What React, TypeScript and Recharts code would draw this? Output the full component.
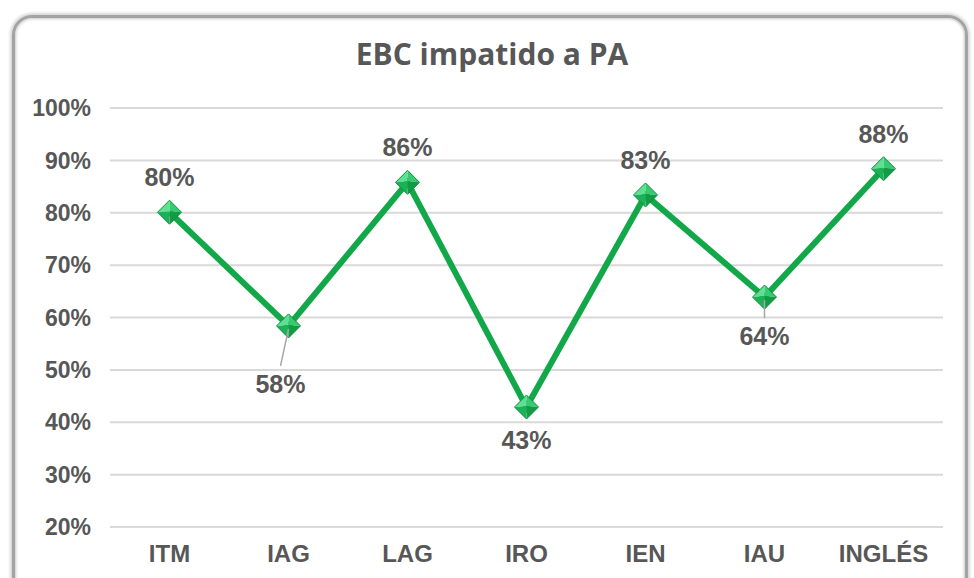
import React from 'react';
import { LineChart, Line, XAxis, YAxis, CartesianGrid, LabelList } from 'recharts';

const categories = ['ITM', 'IAG', 'LAG', 'IRO', 'IEN', 'IAU', 'INGLÉS'];
const values = [0.801, 0.584, 0.858, 0.429, 0.834, 0.639, 0.884];
const yTicks = [0.2, 0.3, 0.4, 0.5, 0.6, 0.7, 0.8, 0.9, 1.0];
const title = 'EBC impatido a PA';

const data = categories.map((name, i) => ({ name, value: values[i] }));

const TEXT = '#575757';
const GREEN = '#12A84A';
const FONT = '"Liberation Sans", Arial, sans-serif';

// labels with a leader line sit a bit further from their point
const leaderNudge: Record<string, { dx: number; dy: number }> = {
  IAG: { dx: -8, dy: 25 },
  IAU: { dx: 0, dy: 6 },
};

const pct = (v: number) => `${Math.round(v * 100)}%`;

function Diamond(props: any) {
  const { cx, cy } = props;
  if (cx == null || cy == null) return null;
  const r = 12;
  const T = `${cx},${cy - r}`;
  const R = `${cx + r},${cy}`;
  const B = `${cx},${cy + r}`;
  const L = `${cx - r},${cy}`;
  const C = `${cx},${cy - 1}`;
  return (
    <g>
      <polygon points={`${L} ${T} ${C}`} fill="#5FDF92" />
      <polygon points={`${T} ${R} ${C}`} fill="#36C970" />
      <polygon points={`${R} ${B} ${C}`} fill="#119B45" />
      <polygon points={`${B} ${L} ${C}`} fill="#1BB257" />
      <polygon points={`${T} ${R} ${B} ${L}`} fill="none" stroke="#0E8F3E" strokeWidth={1} />
    </g>
  );
}

function PointLabel(props: any) {
  const { x, y, value, index } = props;
  const prev = index > 0 ? values[index - 1] : Infinity;
  const next = index < values.length - 1 ? values[index + 1] : Infinity;
  const below = value < prev && value < next;
  const nudge = leaderNudge[categories[index]];
  const dx = nudge ? nudge.dx : 0;
  const dy = (below ? 33 : -35) + (nudge ? nudge.dy : 0);
  return (
    <g>
      {nudge && (
        <line x1={x} y1={y + 3} x2={x + dx} y2={y + dy - 18} stroke="#A6A6A6" strokeWidth={1.5} />
      )}
      <text
        x={x + dx}
        y={y + dy}
        textAnchor="middle"
        dominantBaseline="central"
        fill={TEXT}
        fontSize={25}
        fontWeight="bold"
        fontFamily={FONT}
      >
        {pct(value)}
      </text>
    </g>
  );
}

export default function App() {
  return (
    <div style={{ position: 'absolute', left: 0, top: 0, width: 974, height: 578, overflow: 'hidden', background: '#fff' }}>
      <div
        style={{
          position: 'absolute',
          left: 12,
          top: 15,
          width: 950,
          height: 590,
          border: '3px solid #A3A3A3',
          borderRadius: 20,
          boxShadow: '0 0 3px 2px #D6D6D6, inset 0 0 3px 1px #C8C8C8',
        }}
      />
      <svg style={{ position: 'absolute', left: 0, top: 0 }} width={974} height={90}>
        <text
          x={492}
          y={65}
          textAnchor="middle"
          fill={TEXT}
          fontSize={30}
          fontWeight="bold"
          fontFamily='"Open Sans", sans-serif'
        >
          {title}
        </text>
      </svg>
      <div style={{ position: 'absolute', left: 0, top: 0 }}>
        <LineChart width={974} height={578} data={data} margin={{ top: 108, right: 31, bottom: 11, left: 10 }}>
          <CartesianGrid vertical={false} stroke="#D9D9D9" strokeWidth={2} />
          <XAxis
            dataKey="name"
            axisLine={false}
            tickLine={false}
            tickSize={6}
            tickMargin={12}
            height={40}
            interval={0}
            padding={{ left: 59.5, right: 59.5 }}
            tick={{ fill: TEXT, fontSize: 24, fontWeight: 'bold', fontFamily: FONT }}
          />
          <YAxis
            domain={[0.2, 1]}
            ticks={yTicks}
            tickFormatter={pct}
            axisLine={false}
            tickLine={false}
            tickSize={6}
            tickMargin={13}
            width={100}
            interval={0}
            tick={{ fill: TEXT, fontSize: 23, fontWeight: 'bold', fontFamily: FONT }}
          />
          <Line
            type="linear"
            dataKey="value"
            stroke={GREEN}
            strokeWidth={6}
            dot={<Diamond />}
            activeDot={false}
            isAnimationActive={false}
          >
            <LabelList dataKey="value" content={<PointLabel />} />
          </Line>
        </LineChart>
      </div>
    </div>
  );
}
